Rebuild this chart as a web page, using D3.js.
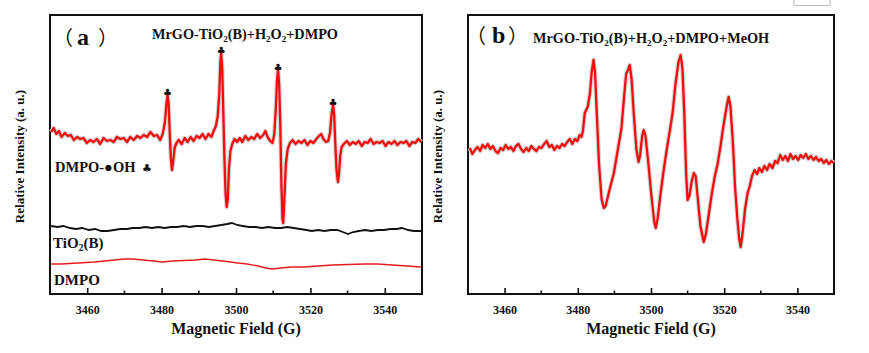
<!DOCTYPE html>
<html>
<head>
<meta charset="utf-8">
<script src="https://cdn.jsdelivr.net/npm/d3@7"></script>
<style>
  html, body { margin: 0; padding: 0; background: #fff; }
  svg { display: block; }
</style>
</head>
<body>
<div id="chart"></div>
<script>
// field (G), intensity (a.u.) pairs
const fieldTicks = [3460, 3480, 3500, 3520, 3540];
const minorTicks = [3470, 3490, 3510, 3530];

const mrgoA = [
  [3450.3,162],[3451.0,166],[3451.7,160],[3452.4,163],[3453.1,157],[3454.0,161],[3454.8,158],[3455.6,159],
  [3456.4,154],[3457.3,157],[3458.1,155],[3459.0,156],[3459.9,151],[3460.8,154],[3461.7,152],[3462.6,155],
  [3463.5,150],[3464.4,156],[3465.3,153],[3466.2,154],[3467.1,152],[3468.0,157],[3468.9,155],[3469.8,156],
  [3470.7,152],[3471.6,157],[3472.5,154],[3473.4,158],[3474.3,156],[3475.2,159],[3476.1,157],[3477.0,162],
  [3477.9,158],[3478.8,159],[3479.6,154],[3480.3,160],[3480.9,172],[3481.3,190],[3481.6,199],[3481.9,190],
  [3482.2,160],[3482.5,135],[3482.8,124],[3483.1,132],[3483.5,146],[3484.0,151],[3484.6,154],[3485.4,150],
  [3486.2,156],[3487.0,152],[3487.8,157],[3488.6,153],[3489.4,158],[3490.2,156],[3491.0,160],[3491.8,155],
  [3492.6,160],[3493.4,157],[3494.0,163],[3494.6,168],[3495.1,178],[3495.5,200],[3495.8,232],[3496.0,241],
  [3496.3,225],[3496.6,180],[3496.9,135],[3497.2,100],[3497.5,87],[3497.8,95],[3498.1,125],[3498.5,143],
  [3499.0,150],[3499.6,155],[3500.3,152],[3501.0,156],[3501.7,152],[3502.5,158],[3503.3,154],[3504.1,157],
  [3504.9,155],[3505.7,160],[3506.5,156],[3507.3,159],[3507.9,163],[3508.5,157],[3509.2,153],[3509.8,151],
  [3510.3,160],[3510.7,185],[3511.0,212],[3511.3,224],[3511.6,210],[3511.9,170],[3512.2,110],[3512.5,75],
  [3512.7,71],[3513.0,95],[3513.4,130],[3513.9,145],[3514.5,151],[3515.2,154],[3516.0,150],[3516.8,153],
  [3517.6,151],[3518.4,154],[3519.2,149],[3520.0,153],[3520.8,151],[3521.6,155],[3522.3,158],[3522.9,160],
  [3523.5,155],[3524.2,152],[3524.8,153],[3525.3,162],[3525.7,180],[3526.1,189],[3526.4,178],[3526.7,150],
  [3527.0,125],[3527.4,112],[3527.7,120],[3528.0,138],[3528.4,147],[3529.0,150],[3529.8,153],[3530.6,149],
  [3531.4,152],[3532.2,150],[3533.0,153],[3533.8,148],[3534.6,152],[3535.4,151],[3536.2,155],[3537.0,150],
  [3537.8,152],[3538.6,151],[3539.4,153],[3540.2,148],[3541.0,152],[3541.8,150],[3542.6,153],[3543.4,149],
  [3544.2,152],[3545.0,151],[3545.8,153],[3546.6,148],[3547.4,152],[3548.2,151],[3549.0,155],[3549.8,152]
];

const tio2A = [
  [3450.3,68],[3452.0,67],[3453.6,68],[3455.3,66],[3457.0,65],[3458.7,66],[3460.4,64],[3462.1,65],
  [3463.8,63],[3465.5,63],[3467.2,64],[3468.9,65],[3470.6,65],[3472.3,66],[3474.0,66],[3475.7,67],
  [3477.4,66],[3479.1,67],[3480.8,66],[3482.5,67],[3484.2,67],[3485.9,68],[3487.6,67],[3489.3,68],
  [3491.0,68],[3492.7,67],[3494.4,68],[3496.1,69],[3497.6,70],[3498.9,71],[3500.3,69],[3501.8,68],
  [3503.5,67],[3505.2,67],[3507.0,66],[3508.7,67],[3510.4,66],[3512.1,66],[3513.8,67],[3515.5,66],
  [3517.2,65],[3518.9,64],[3520.4,63],[3522.1,64],[3523.8,63],[3525.5,64],[3527.2,64],[3528.7,62],
  [3530.1,60],[3531.5,62],[3533.0,63],[3534.7,64],[3536.4,63],[3538.1,64],[3539.8,64],[3541.5,65],
  [3543.2,65],[3544.6,66],[3546.3,64],[3547.8,63],[3549.8,63]
];

const dmpoA = [
  [3450.3,30],[3453.0,30],[3457.5,31],[3462.0,32],[3466.0,33.5],[3470.0,35],[3472.3,35],[3475.0,34],
  [3478.0,33],[3480.1,32],[3483.0,33],[3486.0,33.5],[3489.0,34],[3491.7,35],[3494.0,34],[3496.5,33],
  [3500.5,31],[3503.0,30],[3506.0,28],[3508.0,26],[3509.7,25],[3512.0,26],[3515.0,27],[3518.5,27],
  [3522.0,28],[3526.0,29],[3530.0,29.5],[3534.7,30],[3538.0,30],[3542.0,29],[3546.0,28],[3549.8,27]
];

const clubFields = [3481.6, 3496.0, 3511.3, 3526.1];

const meohB = [
  [3450.5,146],[3451.2,140],[3451.9,144],[3452.6,147],[3453.3,143],[3454.0,149],[3454.7,146],[3455.4,150],
  [3456.1,145],[3456.8,148],[3457.5,143],[3458.2,141],[3458.9,146],[3459.6,144],[3460.3,149],[3461.0,145],
  [3461.7,147],[3462.4,143],[3463.1,148],[3463.8,150],[3464.5,145],[3465.2,142],[3465.9,146],[3466.6,143],
  [3467.3,148],[3468.0,145],[3468.7,143],[3469.4,147],[3470.1,146],[3470.8,150],[3471.5,153],[3472.2,147],
  [3472.9,149],[3473.6,144],[3474.3,148],[3475.0,146],[3475.7,150],[3476.4,148],[3477.1,152],[3477.8,155],
  [3478.5,150],[3479.2,155],[3479.9,153],[3480.5,159],[3481.0,157],[3481.4,163],[3481.9,181],[3482.7,187],
  [3483.3,200],[3483.8,222],[3484.3,234],[3484.7,222],[3485.2,180],[3485.8,130],[3486.5,95],[3487.1,86],
  [3487.6,88],[3488.4,100],[3489.2,112],[3489.8,120],[3490.5,135],[3491.2,150],[3491.9,165],[3492.6,195],
  [3493.2,220],[3493.7,224],[3494.2,229],[3494.7,215],[3495.3,180],[3496.0,145],[3496.6,132],[3497.0,138],
  [3497.6,158],[3498.0,164],[3498.5,158],[3499.3,130],[3500.2,95],[3500.9,72],[3501.3,66],[3501.8,75],
  [3502.6,100],[3503.4,122],[3504.2,142],[3505.0,160],[3505.9,181],[3506.7,210],[3507.5,232],[3508.1,239],
  [3508.6,225],[3509.1,180],[3509.6,120],[3510.0,94],[3510.5,98],[3511.1,112],[3511.7,121],[3512.2,118],
  [3512.8,95],[3513.5,68],[3514.4,52],[3515.0,60],[3515.8,80],[3516.6,100],[3517.4,117],[3518.2,130],
  [3519.0,148],[3519.5,161],[3520.1,175],[3520.7,188],[3521.2,197],[3521.7,188],[3522.4,150],[3523.0,105],
  [3523.6,75],[3524.1,55],[3524.5,47],[3525.0,60],[3525.7,85],[3526.4,101],[3527.0,108],[3527.6,118],
  [3528.3,124],[3529.0,120],[3529.6,126],[3530.3,122],[3531.0,128],[3531.7,124],[3532.4,130],[3533.2,126],
  [3533.9,133],[3534.6,131],[3535.3,139],[3536.0,134],[3536.7,138],[3537.4,133],[3538.1,140],[3538.8,135],
  [3539.5,138],[3540.2,134],[3540.9,139],[3541.6,136],[3542.3,140],[3543.0,135],[3543.7,138],[3544.4,134],
  [3545.1,137],[3545.8,133],[3546.5,135],[3547.2,131],[3547.9,134],[3548.6,130],[3549.3,133],[3549.9,131]
];

const SERIF = "'Liberation Serif', 'Times New Roman', serif";
const CJK = "'Noto Sans CJK SC', sans-serif";
const SYM = "'DejaVu Sans', sans-serif";

const width = 869;
const height = 353;
const panels = [
  { left: 50, right: 422, top: 15, bottom: 294 },
  { left: 468, right: 834, top: 15, bottom: 294 }
];

const svg = d3.select('#chart')
  .append('svg')
  .attr('width', width)
  .attr('height', height)
  .attr('font-family', SERIF)
  .attr('font-weight', 'bold');

// writes segments like ['TiO', '2', '(B)'] where odd entries are subscripts
function richText(sel, parts, subSize) {
  parts.forEach((p, i) => {
    const sub = i % 2 === 1;
    sel.append('tspan')
      .attr('dy', sub ? 3 : (i > 0 ? -3 : 0))
      .attr('font-size', sub ? subSize : null)
      .text(p);
  });
}

// full-width brackets around the panel letter, placed piece by piece
function panelTag(g, letter, xs, y) {
  g.append('text').attr('x', xs[0]).attr('y', y)
    .attr('font-family', CJK).attr('font-weight', 'normal').attr('font-size', 20)
    .attr('fill', '#111').text('\uff08');
  g.append('text').attr('x', xs[1]).attr('y', y)
    .attr('font-size', 24).attr('fill', '#111').text(letter);
  g.append('text').attr('x', xs[2]).attr('y', y)
    .attr('font-family', CJK).attr('font-weight', 'normal').attr('font-size', 20)
    .attr('fill', '#111').text('\uff09');
}

function drawPanel(p) {
  const x = d3.scaleLinear().domain([3450, 3550]).range([p.left, p.right]);
  const y = d3.scaleLinear().domain([0, 279]).range([p.bottom, p.top]);
  const line = d3.line().x((d) => x(d[0])).y((d) => y(d[1]));

  const g = svg.append('g');

  // bottom axis, ticks pointing inward
  const axis = g.append('g').attr('transform', `translate(0,${p.bottom})`);
  axis.call(d3.axisBottom(x).tickValues(fieldTicks).tickSize(-6).tickSizeOuter(0)
    .tickPadding(11).tickFormat(d3.format('d')));
  axis.attr('font-family', SERIF).attr('font-size', 12);
  axis.select('.domain').remove();
  axis.selectAll('.tick line').attr('stroke', '#111').attr('stroke-width', 1.6);
  axis.selectAll('.tick text')
    .attr('font-weight', 'bold')
    .attr('fill', '#111');
  axis.selectAll('.minor')
    .data(minorTicks)
    .enter()
      .append('line')
      .attr('x1', (d) => x(d)).attr('x2', (d) => x(d))
      .attr('y1', 0).attr('y2', -3.5)
      .attr('stroke', '#111')
      .attr('stroke-width', 1.6);

  g.append('rect')
    .attr('x', p.left).attr('y', p.top)
    .attr('width', p.right - p.left).attr('height', p.bottom - p.top)
    .attr('fill', 'none')
    .attr('stroke', '#111')
    .attr('stroke-width', 2);

  g.append('text')
    .attr('text-anchor', 'middle')
    .attr('x', (p.left + p.right) / 2)
    .attr('y', 334)
    .attr('font-size', 16)
    .attr('fill', '#111')
    .text('Magnetic Field (G)');

  const yMid = (p.top + p.bottom) / 2;
  g.append('text')
    .attr('text-anchor', 'middle')
    .attr('transform', `translate(${p.left - 26},${yMid + 2}) rotate(-90)`)
    .attr('font-size', 13)
    .attr('fill', '#111')
    .text('Relative Intensity (a. u.)');

  return { x, y, line, g };
}

// panel (a)
const a = drawPanel(panels[0]);

a.g.append('path')
  .datum(dmpoA)
  .attr('fill', 'none')
  .attr('stroke', '#e8191b')
  .attr('stroke-width', 1.3)
  .attr('d', a.line);

a.g.append('path')
  .datum(tio2A)
  .attr('fill', 'none')
  .attr('stroke', '#111')
  .attr('stroke-width', 1.8)
  .attr('d', a.line);

a.g.append('path')
  .datum(mrgoA)
  .attr('fill', 'none')
  .attr('stroke', '#d4d4d4')
  .attr('stroke-width', 4.5)
  .attr('stroke-linejoin', 'round')
  .attr('d', a.line);

a.g.append('path')
  .datum(mrgoA)
  .attr('fill', 'none')
  .attr('stroke', '#f20d0d')
  .attr('stroke-width', 2.3)
  .attr('stroke-linejoin', 'round')
  .attr('d', a.line);

a.g.selectAll('.club')
  .data(clubFields)
  .enter()
    .append('text')
    .attr('class', 'club')
    .attr('text-anchor', 'middle')
    .attr('font-family', SYM)
    .attr('font-weight', 'normal')
    .attr('font-size', 10)
    .attr('fill', '#111')
    .attr('x', (d) => a.x(d))
    .attr('y', (d) => {
      const peak = d3.max(mrgoA.filter((q) => Math.abs(q[0] - d) < 1), (q) => q[1]);
      return a.y(peak) + 0.5;
    })
    .text('\u2663');

panelTag(a.g, 'a', [53, 77, 98], 45);

richText(a.g.append('text').attr('x', 152).attr('y', 39).attr('font-size', 14.3).attr('fill', '#111'),
  ['MrGO-TiO', '2', '(B)+H', '2', 'O', '2', '+DMPO'], 9);

a.g.append('text').attr('x', 55).attr('y', 172).attr('font-size', 14.5).attr('fill', '#111')
  .text('DMPO-\u25cfOH');
a.g.append('text')
  .attr('x', 147).attr('y', 172)
  .attr('font-family', SYM)
  .attr('font-weight', 'normal')
  .attr('font-size', 11)
  .attr('text-anchor', 'middle')
  .attr('fill', '#111')
  .text('\u2663');

richText(a.g.append('text').attr('x', 53).attr('y', 248).attr('font-size', 15).attr('fill', '#111'),
  ['TiO', '2', '(B)'], 10);

a.g.append('text').attr('x', 54).attr('y', 285).attr('font-size', 15).attr('fill', '#111').text('DMPO');

// panel (b)
const b = drawPanel(panels[1]);

b.g.append('path')
  .datum(meohB)
  .attr('fill', 'none')
  .attr('stroke', '#d4d4d4')
  .attr('stroke-width', 4.5)
  .attr('stroke-linejoin', 'round')
  .attr('d', b.line);

b.g.append('path')
  .datum(meohB)
  .attr('fill', 'none')
  .attr('stroke', '#f20d0d')
  .attr('stroke-width', 2.3)
  .attr('stroke-linejoin', 'round')
  .attr('d', b.line);

panelTag(b.g, 'b', [466, 492, 508], 43);

richText(b.g.append('text').attr('x', 533).attr('y', 43).attr('font-size', 14.3).attr('fill', '#111'),
  ['MrGO-TiO', '2', '(B)+H', '2', 'O', '2', '+DMPO+MeOH'], 9);

// small box fragment at the top edge
svg.append('rect')
  .attr('x', 794).attr('y', -2)
  .attr('width', 36).attr('height', 7.5)
  .attr('fill', 'none')
  .attr('stroke', '#bbb')
  .attr('stroke-width', 1);
</script>
</body>
</html>
